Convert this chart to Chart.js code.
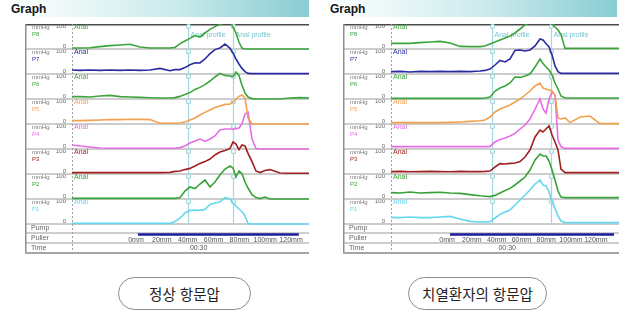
<!DOCTYPE html>
<html lang="ko">
<head>
<meta charset="utf-8">
<title>Graph</title>
<script src="https://cdn.jsdelivr.net/npm/chart.js@4.4.0/dist/chart.umd.min.js"></script>
<style>
  html, body { margin: 0; padding: 0; background: #fff; }
  body { width: 619px; height: 331px; position: relative; overflow: hidden; font-family: 'Liberation Sans', Arial, sans-serif; }
  .head { position: absolute; top: 0; height: 17px; background: linear-gradient(to right, #ffffff 0%, #f4fbfb 14%, #cdebed 55%, #88cdd3 100%); }
  .head span { position: absolute; top: 2px; font-weight: bold; font-size: 12px; color: #151515; }
  canvas { position: absolute; top: 24px; }
  .pill { position: absolute; top: 277px; height: 31px; border: 1px solid #8c8c8c; border-radius: 17px; background: #fff;
          text-align: center; line-height: 31px; font-family: 'Noto Sans CJK KR', sans-serif; font-size: 14.5px; color: #222; }
</style>
</head>
<body>
<div class="head" style="left:0; width:309px;"><span style="left:11px;">Graph</span></div>
<div class="head" style="left:320px; width:297px;"><span style="left:10px;">Graph</span></div>

<canvas id="normalChart" width="284" height="230" style="left:25px;"></canvas>
<canvas id="fissureChart" width="276" height="230" style="left:343px;"></canvas>

<div class="pill" style="left:118px; width:131px;">정상 항문압</div>
<div class="pill" style="left:408px; width:137px;">치열환자의 항문압</div>

<script>
// Channels, top row first
const channelNames = ['P8', 'P7', 'P6', 'P5', 'P4', 'P3', 'P2', 'P1'];
const channelColors = ['#3ca43c', '#2a2aa2', '#3ca43c', '#f1a14f', '#e46de4', '#a01f1f', '#38a238', '#64d8ef'];
const rowIds = ['p8', 'p7', 'p6', 'p5', 'p4', 'p3', 'p2', 'p1'];

// Puller distance axis (mm) and time marker
const pullerTicks = [0, 20, 40, 60, 80, 100, 120];
const timeTicks = [48.5];
const timeLabels = ['00:30'];

// Normal anal pressure: sample positions (mm) and mmHg per channel
const normalPos = [-49.5, -43.3, -35.6, -27.9, -20.1, -12.4, -4.6, 3.1, 10.8, 18.6, 26.3, 30.2, 34.1, 37.9, 41.8, 45.7, 49.5, 53.4, 57.3, 61.1, 65.0, 68.9, 72.8, 75.1, 77.4, 79.7, 82.0, 84.4, 86.7, 89.8, 92.9, 96.0, 99.8, 103.7, 111.5, 119.2, 126.9, 133.9];
const normalP8 = [-5, -5, -4, 2, 7, 10, 14, 0, -5, -5, -5, -2, 17, 30, 43, 57, 50, 70, 88, 102, 112, 125, 125, 101, 70, 25, -5, -10, -10, -10, -10, -10, -10, -10, -10, -10, -10, -10];
const normalP7 = [10, 8, 10, 8, 10, 8, 10, 8, 10, 18, 6, 12, 12, 22, 36, 46, 45, 65, 92, 112, 120, 140, 118, 95, 65, 40, 18, 2, -7, -8, -8, -8, -8, -8, -8, -8, -8, -8];
const normalP6 = [2, 2, 0, 5, 8, 2, 0, -2, -4, -5, -5, -3, 3, 12, 22, 38, 48, 62, 80, 100, 118, 108, 105, 102, 125, 108, 60, 20, 0, -8, -10, -10, -10, -10, -10, -5, -3, -5];
const normalP5 = [7, 7, 8, 10, 12, 12, 14, 13, 12, -6, -6, -6, -5, 0, 10, 20, 35, 48, 60, 72, 80, 88, 90, 100, 115, 128, 135, 120, 20, -10, -10, -10, -10, -10, -10, -10, -10, -10];
const normalP4 = [10, 5, 0, -5, -6, -6, -6, -6, -6, -6, -6, -5, -3, 5, 20, 30, 40, 28, 40, 55, 85, 90, 90, 88, 92, 95, 115, 165, 175, 40, -8, -10, -10, -10, -10, -10, -10, -10];
const normalP3 = [-3, -3, -3, -3, -3, -3, -3, -3, -3, -3, -2, 3, 5, 12, 18, 30, 43, 52, 65, 85, 100, 108, 118, 150, 140, 112, 135, 130, 93, 52, 5, -3, 8, 12, -5, -6, -6, -6];
const normalP2 = [-7, -7, -7, -7, -7, -7, -7, -7, -7, -7, -7, -7, -3, 30, 50, 42, 65, 85, 50, 75, 110, 140, 155, 145, 100, 130, 118, 75, 45, 12, -3, -8, 0, -10, -10, -10, -10, -10];
const normalP1 = [-7, -7, -7, -7, -7, -7, -7, -7, -7, -7, -7, 2, 20, 45, 58, 60, 58, 63, 88, 95, 100, 122, 115, 95, 80, 65, 52, 30, -8, -10, -10, -10, -10, -10, -10, -10, -10, -10];
const normalProfile = [40.2, 75.1];
const normalPuller = [1.5, 126];
const normalRange = [-49.5, 133.9];

// Anal fissure patient
const fissurePos = [-45.2, -37.9, -29.8, -21.8, -13.7, -5.6, 2.4, 10.5, 18.5, 26.6, 30.6, 34.7, 38.7, 42.7, 46.8, 50.8, 54.8, 58.9, 62.9, 66.9, 71.0, 75.0, 77.4, 79.8, 82.3, 84.7, 87.1, 89.5, 91.9, 95.2, 99.2, 107.3, 115.3, 123.4, 131.5, 138.7];
const fissureP8 = [18, 18, 18, 22, 25, 28, 20, 3, 2, 2, 5, 15, 25, 35, 45, 55, 70, 90, 110, 125, 125, 125, 125, 125, 125, 112, 100, 85, 62, -7, -7, -7, -7, -7, -7, -7];
const fissureP7 = [2, 3, 0, 3, 2, 3, 2, 3, 2, 5, 8, 15, 35, 58, 50, 65, 108, 110, 105, 110, 130, 165, 160, 142, 125, 85, 30, 2, -7, -7, -7, -7, -7, -7, -7, -7];
const fissureP6 = [-7, -7, -6, -7, -7, -6, -7, -7, -7, -7, -5, 0, 30, 45, 55, 70, 100, 98, 105, 115, 150, 190, 168, 150, 135, 110, 70, 40, 5, -5, -5, -5, -5, -5, -5, -5];
const fissureP5 = [-3, -3, -3, -3, -3, -3, -2, 0, 3, 6, 10, 25, 50, 65, 75, 85, 100, 115, 135, 155, 180, 195, 170, 165, 160, 155, 135, 20, 15, 20, -3, 25, 30, -8, -8, -8];
const fissureP4 = [2, 2, 2, 2, 2, 2, 2, 2, 2, 2, 2, 3, 25, 38, 45, 55, 68, 90, 110, 140, 190, 240, 190, 170, 240, 275, 260, 35, 2, -7, -7, -7, -7, -7, -7, -7];
const fissureP3 = [2, 3, 1, 2, 3, 2, 1, 3, 2, 2, 3, 5, 25, 42, 40, 43, 45, 52, 75, 110, 175, 210, 200, 215, 230, 185, 150, 110, 15, -3, -3, -3, -3, -3, -3, -3];
const fissureP2 = [22, 20, 25, 20, 22, 24, 20, 18, 12, 6, 4, 2, 8, 20, 32, 43, 60, 80, 100, 135, 185, 215, 205, 205, 180, 135, 85, 30, 0, -3, -3, -3, -3, -3, -3, -3];
const fissureP1 = [23, 22, 25, 22, 22, 25, 28, 15, 3, 0, 0, 2, 20, 38, 50, 60, 85, 110, 135, 160, 190, 210, 185, 180, 150, 102, 68, 30, 5, -3, -3, -3, -3, -3, -3, -3];
const fissureProfile = [36.3, 83.9];
const fissurePuller = [2.4, 134.7];
const fissureRange = [-45.2, 138.7];

Chart.defaults.font.family = "'Liberation Sans', Arial, sans-serif";
Chart.defaults.font.size = 7;
Chart.defaults.color = '#555';

// Frame, label column and "Anal profile" markers, drawn under the traces
const manometryFrame = {
    id: 'manometryFrame',
    beforeDatasetsDraw(chart, args, opts) {
        const { ctx, chartArea: area, scales } = chart;
        const h = chart.height;
        const xs = scales.x;
        ctx.save();
        ctx.textBaseline = 'middle';
        ctx.textAlign = 'left';

        // row separators
        ctx.strokeStyle = '#bdbdbd';
        ctx.lineWidth = 1.5;
        const seps = rowIds.map(id => scales[id].bottom).concat([scales.pump.bottom, xs.bottom]);
        seps.forEach(y => {
            ctx.beginPath();
            ctx.moveTo(0, y);
            ctx.lineTo(area.right, y);
            ctx.stroke();
        });

        // outer box
        ctx.strokeStyle = '#4a4a4a';
        ctx.beginPath(); ctx.moveTo(0, 0.75); ctx.lineTo(area.right, 0.75); ctx.stroke();
        ctx.strokeStyle = '#8f8f8f';
        ctx.beginPath(); ctx.moveTo(0.75, 0); ctx.lineTo(0.75, h); ctx.stroke();
        ctx.strokeStyle = '#a5a5a5';
        ctx.lineWidth = 2;
        ctx.beginPath(); ctx.moveTo(0, h - 1); ctx.lineTo(area.right, h - 1); ctx.stroke();

        // dashed boundary between labels and traces
        ctx.strokeStyle = '#a0a0a0';
        ctx.lineWidth = 1;
        ctx.setLineDash([2, 2]);
        ctx.beginPath(); ctx.moveTo(area.left + 0.5, 0); ctx.lineTo(area.left + 0.5, h); ctx.stroke();
        ctx.setLineDash([]);

        // channel labels
        rowIds.forEach((id, i) => {
            const top = scales[id].top;
            ctx.font = "6px 'Liberation Sans', Arial, sans-serif";
            ctx.fillStyle = '#777';
            ctx.fillText('mmHg', 7, top + 3.5);
            ctx.fillStyle = channelColors[i];
            ctx.fillText(channelNames[i], 7, top + 10);
            ctx.font = "7px 'Liberation Sans', Arial, sans-serif";
            ctx.fillText('Anal', area.left + 2, top + 3.5);
        });
        ctx.fillStyle = '#666';
        ctx.fillText('Pump', 6, (scales.pump.top + scales.pump.bottom) / 2);
        ctx.fillText('Puller', 6, (scales.pump.bottom + xs.bottom) / 2);
        ctx.fillText('Time', 6, (xs.bottom + h) / 2);

        // anal profile markers
        const bottom = scales.p1.bottom;
        opts.marks.forEach(m => {
            const px = Math.round(xs.getPixelForValue(m)) + 0.5;
            ctx.strokeStyle = '#a3d9de';
            ctx.lineWidth = 1.2;
            ctx.beginPath(); ctx.moveTo(px, area.top); ctx.lineTo(px, bottom); ctx.stroke();
            rowIds.forEach(id => {
                ctx.beginPath();
                ctx.arc(px, scales[id].top + 2.5, 2, 0, Math.PI * 2);
                ctx.fillStyle = '#fff';
                ctx.fill();
                ctx.stroke();
            });
            ctx.fillStyle = '#74c6d3';
            ctx.fillText('Anal profile', px + 2, scales.p8.top + 11);
        });
        ctx.restore();
    }
};

const noGrid = { display: false, drawTicks: false };

function makeScales(range, axisWidth) {
    const scales = {
        x: {
            type: 'linear', axis: 'x', position: 'bottom', min: range[0], max: range[1],
            grid: noGrid, border: { display: false },
            ticks: { padding: 0, maxRotation: 0, autoSkip: false, callback: v => v + 'mm' },
            afterBuildTicks: s => { s.ticks = pullerTicks.map(v => ({ value: v })); },
            afterFit: s => { s.height = 7; s.paddingLeft = 0; s.paddingRight = 0; }
        },
        time: {
            type: 'linear', axis: 'x', position: 'bottom', min: range[0], max: range[1],
            grid: noGrid, border: { display: false },
            ticks: { padding: 1, maxRotation: 0, autoSkip: false, callback: (v, i) => timeLabels[i] },
            afterBuildTicks: s => { s.ticks = timeTicks.map(v => ({ value: v })); },
            afterFit: s => { s.height = 11; s.paddingLeft = 0; s.paddingRight = 0; }
        }
    };
    // stacked left axes are laid out bottom-up, so the lowest row goes first
    scales.puller = {
        type: 'linear', axis: 'y', position: 'left', stack: 'rows', stackWeight: 3, min: 0, max: 1,
        grid: noGrid, border: { display: false }, ticks: { display: false },
        afterFit: s => { s.width = axisWidth; s.paddingTop = 0; s.paddingBottom = 0; }
    };
    scales.pump = {
        type: 'linear', axis: 'y', position: 'left', stack: 'rows', stackWeight: 9, min: 0, max: 1,
        grid: noGrid, border: { display: false }, ticks: { display: false },
        afterFit: s => { s.width = axisWidth; s.paddingTop = 0; s.paddingBottom = 0; }
    };
    rowIds.slice().reverse().forEach(id => {
        scales[id] = {
            type: 'linear', axis: 'y', position: 'left', stack: 'rows', stackWeight: 25,
            min: -10, max: 115,
            grid: noGrid, border: { display: false },
            ticks: { padding: 6, labelOffset: -1, autoSkip: false, color: '#666', font: { size: 6 } },
            afterBuildTicks: s => { s.ticks = [{ value: 0 }, { value: 100 }]; },
            afterFit: s => { s.width = axisWidth; s.paddingTop = 0; s.paddingBottom = 0; }
        };
    });
    return scales;
}

function makeDatasets(pos, series, puller) {
    // traces may rise into the row above, so no per-axis clipping
    const sets = series.map((vals, i) => ({
        label: channelNames[i],
        data: pos.map((x, j) => ({ x: x, y: vals[j] })),
        xAxisID: 'x',
        yAxisID: rowIds[i],
        borderColor: channelColors[i],
        borderWidth: 1.6,
        pointRadius: 0,
        tension: 0,
        clip: false
    }));
    sets.push({
        label: 'Puller',
        data: puller.map(x => ({ x: x, y: 0.5 })),
        xAxisID: 'x',
        yAxisID: 'puller',
        borderColor: '#1c1c9e',
        borderWidth: 2.5,
        pointRadius: 0,
        clip: false
    });
    return sets;
}

function drawManometry(canvasId, pos, series, puller, marks, range, axisWidth) {
    new Chart(document.getElementById(canvasId), {
        type: 'line',
        data: { datasets: makeDatasets(pos, series, puller) },
        options: {
            responsive: false,
            animation: false,
            events: [],
            layout: { padding: 0 },
            plugins: {
                legend: { display: false },
                tooltip: { enabled: false },
                manometryFrame: { marks: marks }
            },
            scales: makeScales(range, axisWidth)
        },
        plugins: [manometryFrame]
    });
}

drawManometry('normalChart', normalPos,
    [normalP8, normalP7, normalP6, normalP5, normalP4, normalP3, normalP2, normalP1],
    normalPuller, normalProfile, normalRange, 47);

drawManometry('fissureChart', fissurePos,
    [fissureP8, fissureP7, fissureP6, fissureP5, fissureP4, fissureP3, fissureP2, fissureP1],
    fissurePuller, fissureProfile, fissureRange, 48);
</script>
</body>
</html>
